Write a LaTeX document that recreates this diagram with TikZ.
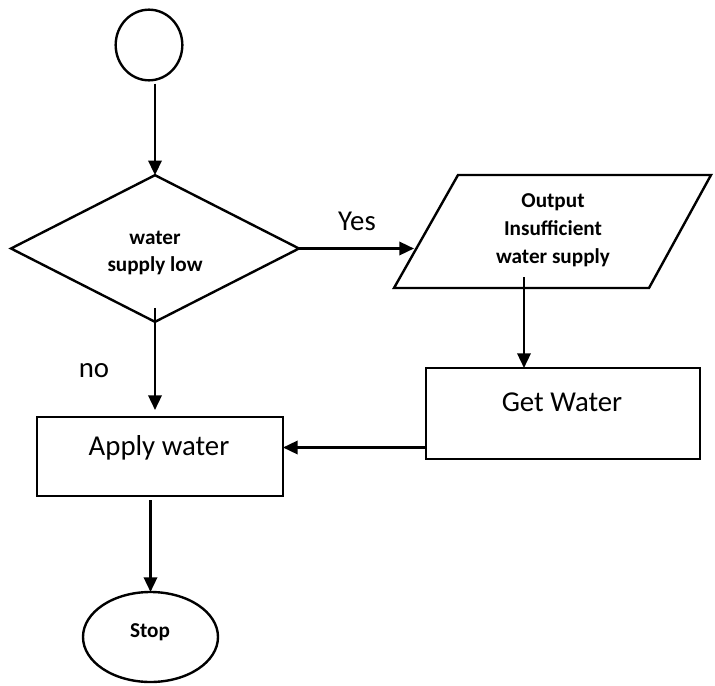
\documentclass[tikz,border=0pt]{standalone}
\usepackage{fontspec}
\setmainfont{Carlito}
\usetikzlibrary{shapes.geometric,arrows.meta}
\begin{document}
\begin{tikzpicture}[x=0.75pt,y=-0.75pt,
  lw/.style={line width=1.8pt},
  shp/.style={draw, lw, inner sep=0pt, outer sep=0pt},
  arr/.style={lw, -{Triangle[length=11pt,width=10pt]}},
  big/.style={font=\fontsize{21.6}{26}\selectfont, inner sep=0pt, anchor=base},
  bld/.style={font=\bfseries\fontsize{15.9}{20.8}\selectfont, inner sep=0pt, align=center},
]
\useasboundingbox (0,0) rectangle (715,686);

% shapes
\node[shp, ellipse, minimum width=50pt, minimum height=53pt] (start) at (149,45) {};
\node[shp, diamond, minimum width=216pt, minimum height=110pt] (d) at (155,248.5) {};
\node[bld] (dt) at (155,253) {water\\supply low};
\coordinate (p1) at (394,288);
\coordinate (p2) at (458,175);
\coordinate (p3) at (711,175);
\coordinate (p4) at (649,288);
\draw[lw, line join=miter] (p1) -- (p2) -- (p3) -- (p4) -- cycle;
\node[bld] (outt) at (553,230) {Output\\Insufficient\\water supply};
\node[shp, rectangle, minimum width=205.5pt, minimum height=68.25pt] (get) at (563,413.5) {};
\node[big] (gett) at (562,411.7) {Get Water};
\node[shp, rectangle, minimum width=184.5pt, minimum height=59.25pt] (apply) at (160,456.5) {};
\node[big] (applyt) at (159,455) {Apply water};
\node[shp, ellipse, minimum width=101.25pt, minimum height=67.5pt] (stop) at (150.5,637) {};
\node[bld, anchor=base] (stopt) at (150,637.3) {Stop};

% labels
\node[big] (yes) at (357,230) {Yes};
\node[big] (no) at (94,377.3) {no};

% connectors
\draw[arr] ([yshift=-2.5pt]d.north |- start.south) -- (d.north);
\coordinate (yesend) at (414,248.5);
\draw[arr] (d.east) -- (yesend);
\coordinate (o1) at (524,277);
\draw[arr] (o1) -- (o1 |- get.north);
\coordinate (g1) at (426,447.5);
\draw[arr] (g1) -- (g1 -| apply.east);
\draw[arr] ([yshift=10.5pt]d.south) -- ([yshift=5.25pt]d.south |- apply.north);
\draw[arr] ([yshift=-3pt]stop.north |- apply.south) -- (stop.north);
\end{tikzpicture}
\end{document}
